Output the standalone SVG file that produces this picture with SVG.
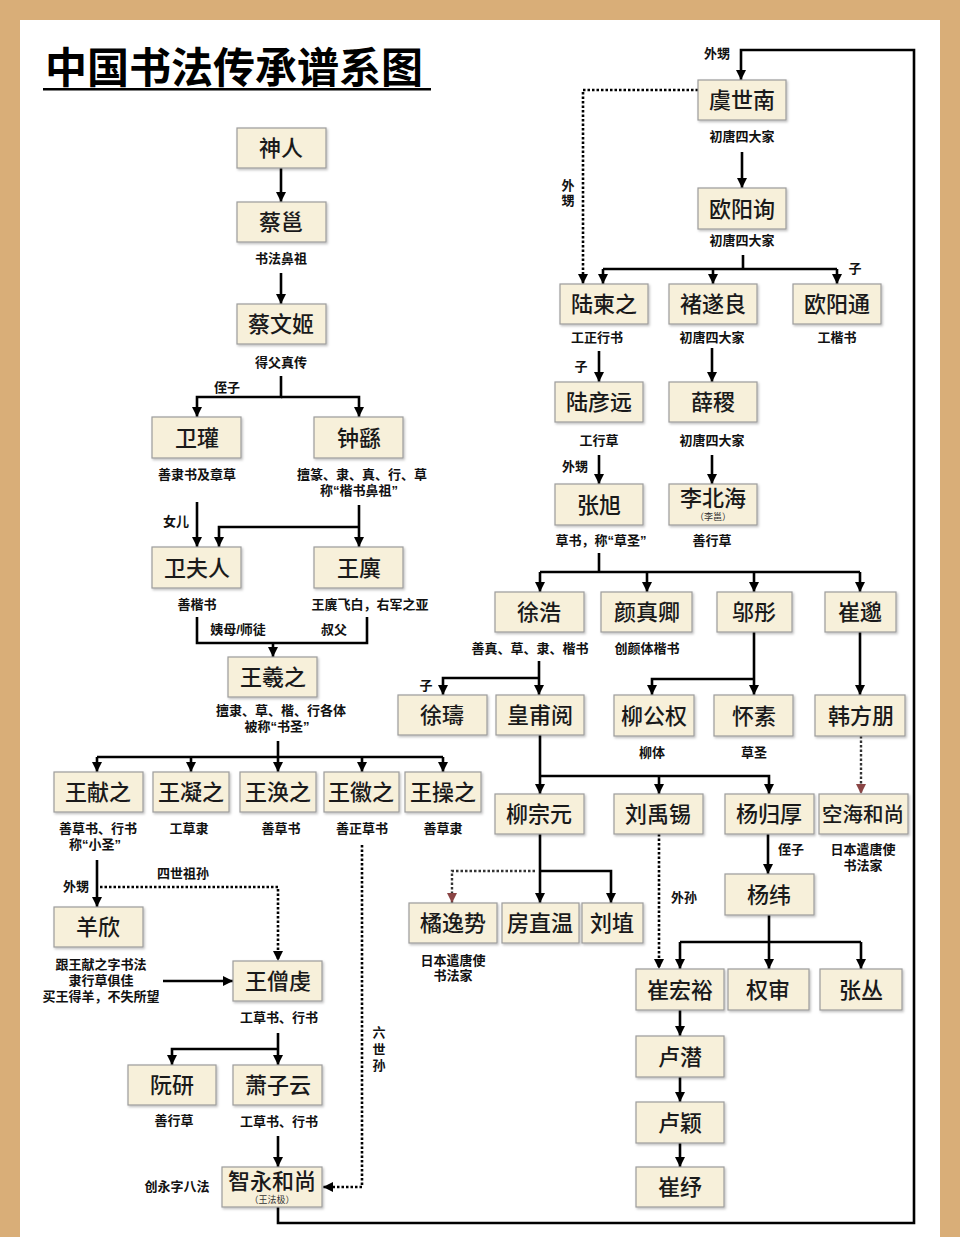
<svg xmlns="http://www.w3.org/2000/svg" width="960" height="1237" viewBox="0 0 960 1237">
<style>
.bg{fill:#D9AE78}
.panel{fill:#FFFFFF}
.box{fill:#F7F0DA;stroke:#9C9C9C;stroke-width:1.2;filter:url(#sh)}
.nm{font-family:"Liberation Sans","Noto Sans CJK SC","Noto Sans CJK TC",sans-serif;font-size:22px;font-weight:500;fill:#1a1a1a;text-anchor:middle}
.sub{font-family:"Liberation Sans","Noto Sans CJK SC",sans-serif;font-size:9px;fill:#333;text-anchor:middle}
.lb{font-family:"Liberation Sans","Noto Sans CJK SC",sans-serif;font-size:13px;font-weight:700;fill:#111;text-anchor:middle}
.ln{fill:none;stroke:#000;stroke-width:2.6}
.ar{fill:none;stroke:#000;stroke-width:2.6;marker-end:url(#a)}
.dt{fill:none;stroke:#000;stroke-width:2.6;stroke-dasharray:2.5 2;marker-end:url(#a)}
.dr{fill:none;stroke:#333;stroke-width:2.4;stroke-dasharray:2.5 2;marker-end:url(#r)}
.title{font-family:"Liberation Sans","Noto Sans CJK SC",sans-serif;font-size:42px;font-weight:700;fill:#000}
</style>
<defs>
<marker id="a" viewBox="0 0 10 10" refX="10" refY="5" markerWidth="11" markerHeight="10" markerUnits="userSpaceOnUse" orient="auto"><path d="M0,0 L10,5 L0,10 z" fill="#000"/></marker>
<marker id="r" viewBox="0 0 10 10" refX="10" refY="5" markerWidth="11" markerHeight="10" markerUnits="userSpaceOnUse" orient="auto"><path d="M0,0 L10,5 L0,10 z" fill="#8A4545"/></marker>
<filter id="sh" x="-10%" y="-10%" width="120%" height="130%"><feDropShadow dx="1.2" dy="1.5" stdDeviation="0.8" flood-color="#000" flood-opacity="0.25"/></filter>
</defs>
<rect class="bg" x="0" y="0" width="960" height="1237"/>
<rect class="panel" x="20" y="20" width="920" height="1217"/>
<g id="title">
<text class="title" x="45" y="83">中国书法传承谱系图</text>
<rect x="43" y="88" width="388" height="2.5" fill="#000"/>
</g>
<g id="connectors">
<path class="ar" d="M281,168 V202"/>
<path class="ar" d="M281,273 V304"/>
<path class="ar" d="M281,376 V397 H197 V417"/>
<path class="ar" d="M281,397 H359 V417"/>
<path class="ar" d="M197,502 V547"/>
<path class="ar" d="M359,505 V547"/>
<path class="ar" d="M359,527 H219 V547"/>
<path class="ln" d="M197,617 V643 H367 V617"/>
<path class="ar" d="M273,643 V657"/>
<path class="ln" d="M278,741 V757 M97,757 H443"/>
<path class="ar" d="M97,757 V772"/>
<path class="ar" d="M191,757 V772"/>
<path class="ar" d="M278,757 V772"/>
<path class="ar" d="M362,757 V772"/>
<path class="ar" d="M443,757 V772"/>
<path class="ar" d="M97,860 V907"/>
<path class="dt" d="M100,887 H278 V961"/>
<path class="ar" d="M163,981 H233"/>
<path class="ar" d="M278,1033 V1065"/>
<path class="ar" d="M278,1049 H172 V1065"/>
<path class="ar" d="M278,1136 V1167"/>
<path class="dt" d="M362,845 V1187 H323"/>
<path class="ar" d="M278,1207 V1223 H914 V50 H741 V80"/>
<path class="dt" d="M698,90 H583 V284"/>
<path class="ar" d="M742,152 V188"/>
<path class="ln" d="M743,255 V269 M603,269 H837"/>
<path class="ar" d="M603,269 V284"/>
<path class="ar" d="M713,269 V284"/>
<path class="ar" d="M837,269 V284"/>
<path class="ar" d="M599,351 V382"/>
<path class="ar" d="M712,348 V382"/>
<path class="ar" d="M599,455 V484"/>
<path class="ar" d="M712,455 V484"/>
<path class="ln" d="M599,553 V572 M540,572 H860"/>
<path class="ar" d="M540,572 V592"/>
<path class="ar" d="M647,572 V592"/>
<path class="ar" d="M754,572 V592"/>
<path class="ar" d="M860,572 V592"/>
<path class="ar" d="M539,661 V695"/>
<path class="ar" d="M539,678 H443 V695"/>
<path class="ar" d="M754,632 V695"/>
<path class="ar" d="M754,679 H652 V695"/>
<path class="ar" d="M860,632 V695"/>
<path class="dr" d="M861,736 V794"/>
<path class="ar" d="M540,735 V794"/>
<path class="ar" d="M540,776 H769 V794"/>
<path class="ar" d="M659,776 V794"/>
<path class="ar" d="M540,834 V903"/>
<path class="ar" d="M540,871 H611 V903"/>
<path class="dr" d="M535,871 H452 V903"/>
<path class="ar" d="M768,834 V874"/>
<path class="dt" d="M659,834 V969"/>
<path class="ar" d="M769,915 V969"/>
<path class="ln" d="M680,942 H861"/>
<path class="ar" d="M680,942 V969"/>
<path class="ar" d="M861,942 V969"/>
<path class="ar" d="M680,1010 V1036"/>
<path class="ar" d="M680,1077 V1102"/>
<path class="ar" d="M680,1143 V1167"/>
</g>
<g id="n-shenren"><rect class="box" x="237" y="128" width="89" height="40"/><text class="nm" x="281" y="156">神人</text></g>
<g id="n-caiyong"><rect class="box" x="237" y="202" width="89" height="40"/><text class="nm" x="281" y="230">蔡邕</text></g>
<g id="n-caiwenji"><rect class="box" x="237" y="304" width="89" height="40"/><text class="nm" x="281" y="332">蔡文姬</text></g>
<g id="n-weiguan"><rect class="box" x="152" y="417" width="89" height="41"/><text class="nm" x="197" y="446">卫瓘</text></g>
<g id="n-zhongyao"><rect class="box" x="314" y="417" width="89" height="41"/><text class="nm" x="359" y="446">钟繇</text></g>
<g id="n-weifuren"><rect class="box" x="152" y="547" width="89" height="41"/><text class="nm" x="197" y="576">卫夫人</text></g>
<g id="n-wangyi"><rect class="box" x="314" y="547" width="89" height="41"/><text class="nm" x="359" y="576">王廙</text></g>
<g id="n-wangxizhi"><rect class="box" x="228" y="657" width="89" height="40"/><text class="nm" x="273" y="685">王羲之</text></g>
<g id="n-wangxianzhi"><rect class="box" x="54" y="772" width="89" height="40"/><text class="nm" x="98" y="800">王献之</text></g>
<g id="n-wangningzhi"><rect class="box" x="153" y="772" width="76" height="40"/><text class="nm" x="191" y="800">王凝之</text></g>
<g id="n-wanghuanzhi"><rect class="box" x="240" y="772" width="76" height="40"/><text class="nm" x="278" y="800">王涣之</text></g>
<g id="n-wanghuizhi"><rect class="box" x="324" y="772" width="75" height="40"/><text class="nm" x="361" y="800">王徽之</text></g>
<g id="n-wangcaozhi"><rect class="box" x="405" y="772" width="76" height="40"/><text class="nm" x="443" y="800">王操之</text></g>
<g id="n-yangxin"><rect class="box" x="54" y="907" width="89" height="40"/><text class="nm" x="98" y="935">羊欣</text></g>
<g id="n-wangsengqian"><rect class="box" x="233" y="961" width="89" height="40"/><text class="nm" x="278" y="989">王僧虔</text></g>
<g id="n-ruanyan"><rect class="box" x="128" y="1065" width="88" height="40"/><text class="nm" x="172" y="1093">阮研</text></g>
<g id="n-xiaoziyun"><rect class="box" x="233" y="1065" width="89" height="40"/><text class="nm" x="278" y="1093">萧子云</text></g>
<g id="n-zhiyong"><rect class="box" x="222" y="1167" width="100" height="40"/><text class="nm" x="272" y="1189">智永和尚</text><text class="sub" x="272" y="1203">（王法极）</text></g>
<g id="n-yushinan"><rect class="box" x="698" y="80" width="88" height="40"/><text class="nm" x="742" y="108">虞世南</text></g>
<g id="n-ouyangxun"><rect class="box" x="698" y="188" width="88" height="41"/><text class="nm" x="742" y="217">欧阳询</text></g>
<g id="n-lujianzhi"><rect class="box" x="560" y="284" width="88" height="40"/><text class="nm" x="604" y="312">陆柬之</text></g>
<g id="n-chusuiliang"><rect class="box" x="669" y="284" width="88" height="40"/><text class="nm" x="713" y="312">褚遂良</text></g>
<g id="n-ouyangtong"><rect class="box" x="793" y="284" width="88" height="40"/><text class="nm" x="837" y="312">欧阳通</text></g>
<g id="n-luyanyuan"><rect class="box" x="555" y="382" width="88" height="40"/><text class="nm" x="599" y="410">陆彦远</text></g>
<g id="n-xueji"><rect class="box" x="669" y="382" width="88" height="40"/><text class="nm" x="713" y="410">薛稷</text></g>
<g id="n-zhangxu"><rect class="box" x="555" y="484" width="88" height="41"/><text class="nm" x="599" y="513">张旭</text></g>
<g id="n-libeihai"><rect class="box" x="669" y="484" width="88" height="41"/><text class="nm" x="713" y="506">李北海</text><text class="sub" x="713" y="520">（李邕）</text></g>
<g id="n-xuhao"><rect class="box" x="495" y="592" width="89" height="40"/><text class="nm" x="539" y="620">徐浩</text></g>
<g id="n-yanzhenqing"><rect class="box" x="601" y="592" width="91" height="40"/><text class="nm" x="647" y="620">颜真卿</text></g>
<g id="n-wutong"><rect class="box" x="717" y="592" width="75" height="40"/><text class="nm" x="754" y="620">邬彤</text></g>
<g id="n-cuimiao"><rect class="box" x="825" y="592" width="71" height="40"/><text class="nm" x="860" y="620">崔邈</text></g>
<g id="n-xushu"><rect class="box" x="398" y="695" width="89" height="40"/><text class="nm" x="442" y="723">徐璹</text></g>
<g id="n-huangfuyue"><rect class="box" x="496" y="695" width="88" height="40"/><text class="nm" x="540" y="723">皇甫阅</text></g>
<g id="n-liugongquan"><rect class="box" x="614" y="695" width="80" height="41"/><text class="nm" x="654" y="724">柳公权</text></g>
<g id="n-huaisu"><rect class="box" x="714" y="695" width="79" height="41"/><text class="nm" x="754" y="724">怀素</text></g>
<g id="n-hanfangpeng"><rect class="box" x="815" y="695" width="90" height="41"/><text class="nm" x="861" y="724">韩方朋</text></g>
<g id="n-liuzongyuan"><rect class="box" x="495" y="794" width="89" height="40"/><text class="nm" x="539" y="822">柳宗元</text></g>
<g id="n-liuyuxi"><rect class="box" x="614" y="794" width="89" height="40"/><text class="nm" x="658" y="822">刘禹锡</text></g>
<g id="n-yangguihou"><rect class="box" x="725" y="794" width="89" height="40"/><text class="nm" x="769" y="822">杨归厚</text></g>
<g id="n-kukai"><rect class="box" x="819" y="794" width="89" height="40"/><text class="nm" x="863" y="822" style="font-size:20.5px">空海和尚</text></g>
<g id="n-yangwei"><rect class="box" x="725" y="874" width="89" height="41"/><text class="nm" x="769" y="903">杨纬</text></g>
<g id="n-tachibana"><rect class="box" x="409" y="903" width="88" height="40"/><text class="nm" x="453" y="931">橘逸势</text></g>
<g id="n-fangzhiwen"><rect class="box" x="502" y="903" width="77" height="40"/><text class="nm" x="540" y="931">房直温</text></g>
<g id="n-liuzhi"><rect class="box" x="582" y="903" width="61" height="40"/><text class="nm" x="612" y="931">刘埴</text></g>
<g id="n-cuihongyu"><rect class="box" x="636" y="969" width="88" height="41"/><text class="nm" x="680" y="998">崔宏裕</text></g>
<g id="n-quanshen"><rect class="box" x="728" y="969" width="81" height="41"/><text class="nm" x="768" y="998">权审</text></g>
<g id="n-zhangcong"><rect class="box" x="820" y="969" width="82" height="41"/><text class="nm" x="861" y="998">张丛</text></g>
<g id="n-luqian"><rect class="box" x="636" y="1036" width="88" height="41"/><text class="nm" x="680" y="1065">卢潜</text></g>
<g id="n-luying"><rect class="box" x="636" y="1102" width="88" height="41"/><text class="nm" x="680" y="1131">卢颖</text></g>
<g id="n-cuishu"><rect class="box" x="636" y="1167" width="88" height="40"/><text class="nm" x="680" y="1195">崔纾</text></g>
<g id="labels">
<text class="lb" x="281" y="263">书法鼻祖</text>
<text class="lb" x="281" y="367">得父真传</text>
<text class="lb" x="227" y="392">侄子</text>
<text class="lb" x="197" y="479">善隶书及章草</text>
<text class="lb" x="362" y="479">擅篆、隶、真、行、草</text>
<text class="lb" x="359" y="495">称“楷书鼻祖”</text>
<text class="lb" x="176" y="526">女儿</text>
<text class="lb" x="197" y="609">善楷书</text>
<text class="lb" x="370" y="609">王廙飞白，右军之亚</text>
<text class="lb" x="238" y="634">姨母/师徒</text>
<text class="lb" x="334" y="634">叔父</text>
<text class="lb" x="281" y="715">擅隶、草、楷、行各体</text>
<text class="lb" x="277" y="731">被称“书圣”</text>
<text class="lb" x="98" y="833">善草书、行书</text>
<text class="lb" x="95" y="849">称“小圣”</text>
<text class="lb" x="189" y="833">工草隶</text>
<text class="lb" x="281" y="833">善草书</text>
<text class="lb" x="362" y="833">善正草书</text>
<text class="lb" x="443" y="833">善草隶</text>
<text class="lb" x="76" y="891">外甥</text>
<text class="lb" x="183" y="878">四世祖孙</text>
<text class="lb" x="101" y="969">跟王献之字书法</text>
<text class="lb" x="101" y="985">隶行草俱佳</text>
<text class="lb" x="101" y="1001">买王得羊，不失所望</text>
<text class="lb" x="279" y="1022">工草书、行书</text>
<text class="lb" x="174" y="1125">善行草</text>
<text class="lb" x="279" y="1126">工草书、行书</text>
<text class="lb" x="177" y="1191">创永字八法</text>
<text class="lb" x="379" y="1037">六</text>
<text class="lb" x="379" y="1054">世</text>
<text class="lb" x="379" y="1070">孙</text>
<text class="lb" x="717" y="58">外甥</text>
<text class="lb" x="568" y="190">外</text>
<text class="lb" x="568" y="205">甥</text>
<text class="lb" x="742" y="141">初唐四大家</text>
<text class="lb" x="742" y="245">初唐四大家</text>
<text class="lb" x="855" y="273">子</text>
<text class="lb" x="597" y="342">工正行书</text>
<text class="lb" x="712" y="342">初唐四大家</text>
<text class="lb" x="837" y="342">工楷书</text>
<text class="lb" x="581" y="371">子</text>
<text class="lb" x="599" y="445">工行草</text>
<text class="lb" x="712" y="445">初唐四大家</text>
<text class="lb" x="575" y="471">外甥</text>
<text class="lb" x="601" y="545">草书，称“草圣”</text>
<text class="lb" x="712" y="545">善行草</text>
<text class="lb" x="530" y="653">善真、草、隶、楷书</text>
<text class="lb" x="647" y="653">创颜体楷书</text>
<text class="lb" x="426" y="690">子</text>
<text class="lb" x="652" y="757">柳体</text>
<text class="lb" x="754" y="757">草圣</text>
<text class="lb" x="863" y="854">日本遣唐使</text>
<text class="lb" x="863" y="870">书法家</text>
<text class="lb" x="791" y="854">侄子</text>
<text class="lb" x="684" y="902">外孙</text>
<text class="lb" x="453" y="965">日本遣唐使</text>
<text class="lb" x="453" y="980">书法家</text>
</g>
</svg>
